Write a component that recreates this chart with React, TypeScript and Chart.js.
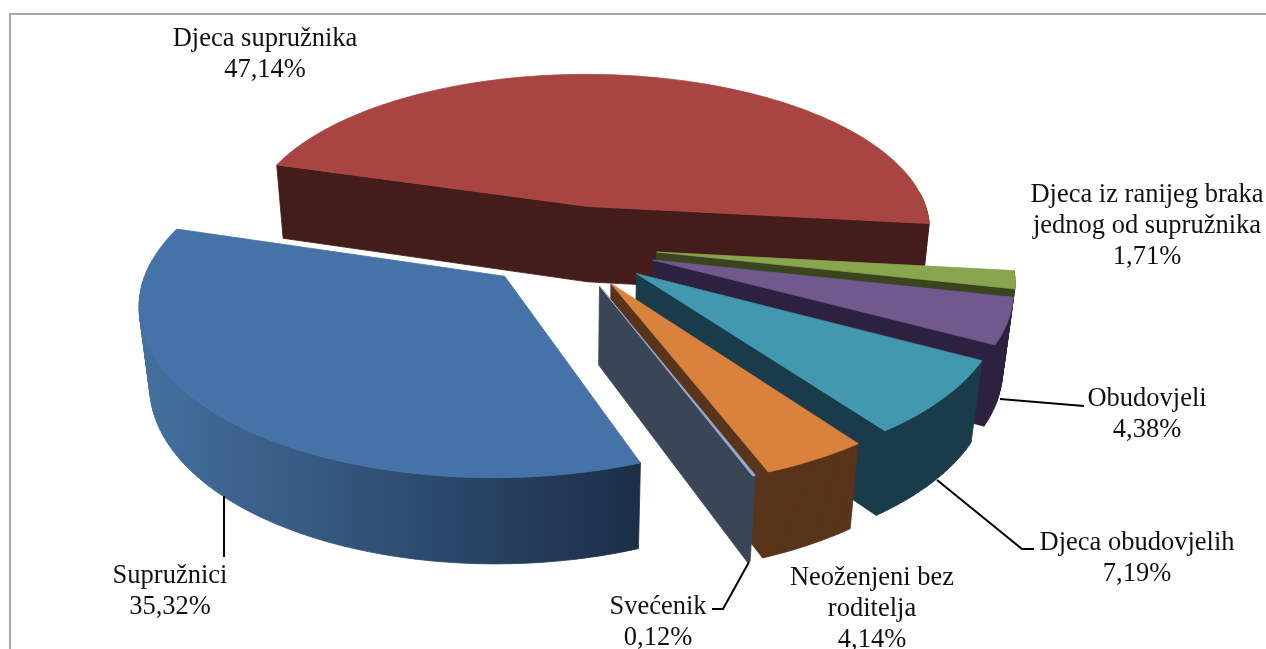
import React, { useEffect, useRef } from "react";
import { Chart, registerables } from "chart.js";

Chart.register(...registerables);

const categories = ["Djeca supružnika", "Djeca iz ranijeg braka jednog od supružnika", "Obudovjeli", "Djeca obudovjelih", "Neoženjeni bez roditelja", "Svećenik", "Supružnici"];
const shareValues = [47.14, 1.71, 4.38, 7.19, 4.14, 0.12, 35.32];
const wrappedNames = [["Djeca supružnika"], ["Djeca iz ranijeg braka", "jednog od supružnika"], ["Obudovjeli"], ["Djeca obudovjelih"], ["Neoženjeni bez", "roditelja"], ["Svećenik"], ["Supružnici"]];

const topColors = ["#A84543", "#89A54E", "#71588F", "#4198AF", "#D9823B", "#93A9CF", "#4572A7"];
const sideColors = ["#441C1A", "#3A451F", "#2C223F", "#1A3C4A", "#58341A", "#3A4556", "#1B2E48"];
const sideGradient = ["#44709F", "#1B2E48"];

// projection of the pie's plane onto the picture
const VIEW = { cx: 566, cy: 245, a: 350, b: 162, depth: 79, p: 0.145, q: 0.024 };
// per-slice fit of the projection: dx, dy
const SLICE_NUDGE = [[4.5, 1.5], [0, 0], [0, 0], [0, 0], [0, 0], [0, 0], [3, -0.5]];
const LABEL_AT = [[265, 46], [1147, 202], [1147, 406], [1137, 550], [872, 585], [658, 614], [170, 583]];
const LEADERS = [
  [[1000, 399], [1084, 406]],
  [[937, 480], [1022, 549], [1034, 549]],
  [[749, 562], [723, 609], [712, 609]],
  [[224, 496], [224, 557]],
];

function project(u: number, v: number, z: number, n: number[]) {
  const w = 1 - VIEW.p * v + VIEW.q * z;
  return [VIEW.cx + n[0] + (VIEW.a * u) / w, VIEW.cy + n[1] + (VIEW.b * v + VIEW.depth * z) / w];
}

function signedArea(pts: number[][]) {
  let area = 0;
  pts.forEach((p, i) => {
    const q = pts[(i + 1) % pts.length];
    area += p[0] * q[1] - q[0] * p[1];
  });
  return area;
}

// all polygons go into one path, so that no seams appear where they meet
function fillPolys(ctx: CanvasRenderingContext2D, polys: number[][][], fill: any) {
  ctx.beginPath();
  polys.forEach((poly) => {
    const pts = signedArea(poly) < 0 ? [...poly].reverse() : poly;
    pts.forEach((p, i) => (i ? ctx.lineTo(p[0], p[1]) : ctx.moveTo(p[0], p[1])));
    ctx.closePath();
  });
  ctx.fillStyle = fill;
  ctx.strokeStyle = fill;
  ctx.lineWidth = 0.8;
  ctx.fill("nonzero");
  ctx.stroke();
}

const pie3d = {
  id: "pie3d",
  beforeDraw(chart: any) {
    const { ctx, width, height } = chart;
    ctx.save();
    ctx.fillStyle = "#FFFFFF";
    ctx.fillRect(0, 0, width, height);
    ctx.strokeStyle = "#A6A6A6";
    ctx.lineWidth = 2;
    ctx.beginPath();
    ctx.moveTo(width, 14);
    ctx.lineTo(10, 14);
    ctx.lineTo(10, height);
    ctx.stroke();
    ctx.restore();
  },
  beforeDatasetsDraw(chart: any) {
    const ctx = chart.ctx;
    const arcs = chart.getDatasetMeta(0).data;
    ctx.save();
    arcs.forEach((arc: any, i: number) => {
      const { startAngle, endAngle, outerRadius } = arc.getProps(["startAngle", "endAngle", "outerRadius"], true);
      const e = arc.options.offset / outerRadius;
      const mid = (startAngle + endAngle) / 2;
      const ox = Math.cos(mid) * e;
      const oy = Math.sin(mid) * e;
      const n = SLICE_NUDGE[i];
      const at = (a: number, r: number, z: number) => project(ox + r * Math.cos(a), oy + r * Math.sin(a), z, n);
      const steps = Math.max(2, Math.ceil((endAngle - startAngle) / 0.02));
      const angles: number[] = [];
      for (let s = 0; s <= steps; s++) angles.push(startAngle + ((endAngle - startAngle) * s) / steps);

      const sides: number[][][] = [];
      const wall = (a: number) => [at(a, 0, 0), at(a, 1, 0), at(a, 1, 1), at(a, 0, 1)];
      if (-Math.cos(startAngle) > 0) sides.push(wall(startAngle));
      if (Math.cos(endAngle) > 0) sides.push(wall(endAngle));

      const front = angles.filter((a) => Math.sin(a) > -0.1);
      for (let s = 1; s < front.length; s++) {
        sides.push([at(front[s - 1], 1, 0), at(front[s], 1, 0), at(front[s], 1, 1), at(front[s - 1], 1, 1)]);
      }
      let fill: any = sideColors[i];
      if (i === categories.length - 1) {
        const xs = front.map((a) => at(a, 1, 0)[0]);
        const g = ctx.createLinearGradient(Math.min(...xs), 0, Math.max(...xs), 0);
        g.addColorStop(0, sideGradient[0]);
        g.addColorStop(1, sideGradient[1]);
        fill = g;
      }
      if (sides.length) fillPolys(ctx, sides, fill);
      fillPolys(ctx, [[at(startAngle, 0, 0), ...angles.map((a) => at(a, 1, 0))]], topColors[i]);
    });
    ctx.restore();
    return false;
  },
  afterDraw(chart: any) {
    const ctx = chart.ctx;
    ctx.save();
    ctx.strokeStyle = "#000000";
    ctx.lineWidth = 2;
    LEADERS.forEach((line) => {
      ctx.beginPath();
      line.forEach((p, i) => (i ? ctx.lineTo(p[0], p[1]) : ctx.moveTo(p[0], p[1])));
      ctx.stroke();
    });
    ctx.fillStyle = "#111111";
    ctx.font = '26.5px "Liberation Serif"';
    ctx.textAlign = "center";
    ctx.textBaseline = "alphabetic";
    wrappedNames.forEach((names, i) => {
      const lines = [...names, shareValues[i].toFixed(2).replace(".", ",") + "%"];
      lines.forEach((t, k) => ctx.fillText(t, LABEL_AT[i][0], LABEL_AT[i][1] + k * 30.8));
    });
    ctx.restore();
  },
};

export default function App() {
  const ref = useRef<HTMLCanvasElement>(null);
  useEffect(() => {
    const chart = new Chart(ref.current as HTMLCanvasElement, {
      type: "pie",
      data: {
        labels: categories,
        datasets: [{ data: shareValues, backgroundColor: topColors, offset: 75, borderWidth: 0 }],
      },
      options: {
        responsive: false,
        animation: false,
        rotation: 286.7,
        events: [],
        plugins: { legend: { display: false }, tooltip: { enabled: false } },
      },
      plugins: [pie3d],
    } as any);
    return () => chart.destroy();
  }, []);
  return (
    <div style={{ position: "fixed", left: 0, top: 0, width: 1266, height: 649, overflow: "hidden", background: "#fff" }}>
      <canvas ref={ref} width={1266} height={649} style={{ display: "block" }} />
    </div>
  );
}
